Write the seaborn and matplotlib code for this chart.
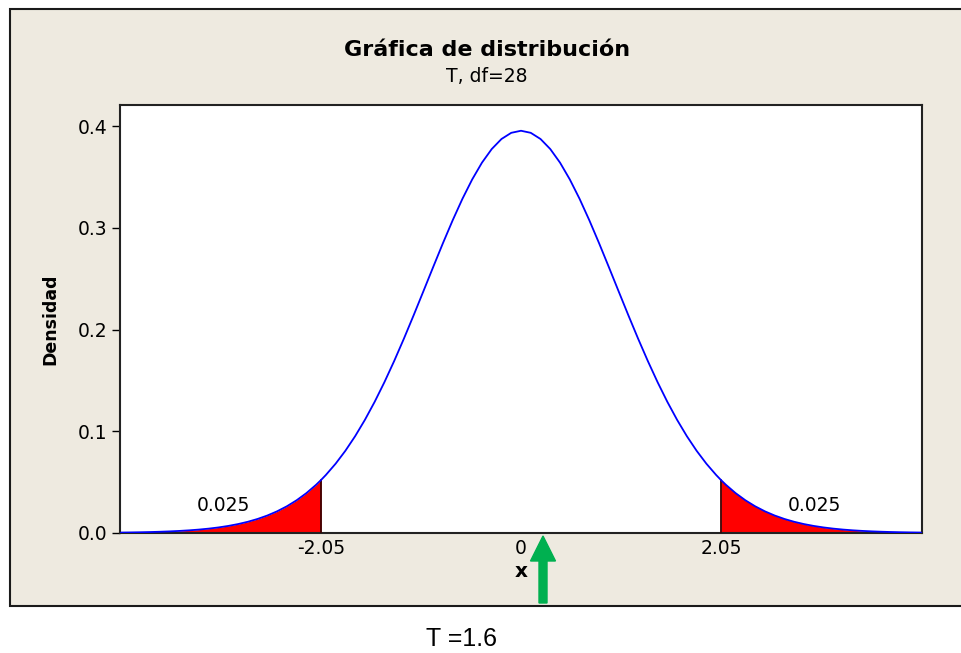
import numpy as np
import matplotlib
matplotlib.use("Agg")
import matplotlib.pyplot as plt
import seaborn as sns
from matplotlib.patches import Rectangle, FancyArrow
from matplotlib.transforms import IdentityTransform

sns.set_style("white")
plt.rcParams['font.family'] = ['DejaVu Sans']
plt.rcParams.update({"text.color": "black", "axes.labelcolor": "black",
                     "xtick.color": "black", "ytick.color": "black"})

# ---- data ----
t_values = [-4.1, -4.0, -3.9, -3.8, -3.7, -3.6, -3.5, -3.4, -3.3, -3.2, -3.1, -3.0,
            -2.9, -2.8, -2.7, -2.6, -2.5, -2.4, -2.3, -2.2, -2.1, -2.05, -2.0,
            -1.9, -1.8, -1.7, -1.6, -1.5, -1.4, -1.3, -1.2, -1.1, -1.0,
            -0.9, -0.8, -0.7, -0.6, -0.5, -0.4, -0.3, -0.2, -0.1, 0.0,
            0.1, 0.2, 0.3, 0.4, 0.5, 0.6, 0.7, 0.8, 0.9, 1.0,
            1.1, 1.2, 1.3, 1.4, 1.5, 1.6, 1.7, 1.8, 1.9, 2.0, 2.05,
            2.1, 2.2, 2.3, 2.4, 2.5, 2.6, 2.7, 2.8, 2.9, 3.0,
            3.1, 3.2, 3.3, 3.4, 3.5, 3.6, 3.7, 3.8, 3.9, 4.0, 4.1]
density = [0.00043, 0.00056, 0.00073, 0.00095, 0.00123, 0.00159, 0.00205, 0.00263,
           0.00337, 0.00431, 0.00548, 0.00695, 0.00877, 0.01103, 0.01380, 0.01719,
           0.02130, 0.02625, 0.03216, 0.03917, 0.04741, 0.05205, 0.05704,
           0.06813, 0.08082, 0.09516, 0.11120, 0.12891, 0.14824, 0.16903, 0.19108,
           0.21410, 0.23771, 0.26147, 0.28491, 0.30745, 0.32854, 0.34758, 0.36404,
           0.37741, 0.38729, 0.39335, 0.39539,
           0.39335, 0.38729, 0.37741, 0.36404, 0.34758, 0.32854, 0.30745, 0.28491,
           0.26147, 0.23771, 0.21410, 0.19108, 0.16903, 0.14824, 0.12891, 0.11120,
           0.09516, 0.08082, 0.06813, 0.05704, 0.05205, 0.04741,
           0.03917, 0.03216, 0.02625, 0.02130, 0.01719, 0.01380, 0.01103, 0.00877,
           0.00695, 0.00548, 0.00431, 0.00337, 0.00263, 0.00205, 0.00159, 0.00123,
           0.00095, 0.00073, 0.00056, 0.00043]
critical = [-2.05, 2.05]
tail_areas = ["0.025", "0.025"]
x_ticks = [-2.05, 0, 2.05]
x_tick_labels = ["-2.05", "0", "2.05"]
y_ticks = [0.0, 0.1, 0.2, 0.3, 0.4]
y_tick_labels = ["0.0", "0.1", "0.2", "0.3", "0.4"]
title = "Gráfica de distribución"
subtitle = "T, df=28"
stat_text = "T =1.6"

W, H = 961, 653
fig = plt.figure(figsize=(W / 100, H / 100), dpi=100)
fig.patch.set_facecolor("white")

# beige panel
panel = Rectangle((10 / W, (H - 606) / H), 1.2, (606 - 9) / H,
                  transform=fig.transFigure, facecolor="#EEEAE0",
                  edgecolor="#1a1a1a", linewidth=1.5, zorder=-5)
fig.patches.append(panel)

ax = fig.add_axes([120 / W, (H - 533) / H, 802 / W, 428 / H])
ax.set_zorder(2)
ax.set_facecolor("white")

x = np.array(t_values)
y = np.array(density)

# tails
left = x <= critical[0]
right = x >= critical[1]
ax.fill_between(x[left], 0, y[left], color="#FF0000", linewidth=0, zorder=2)
ax.fill_between(x[right], 0, y[right], color="#FF0000", linewidth=0, zorder=2)
ax.plot([critical[0], critical[0]], [0, y[x == critical[0]][0]], color="#3a0000", lw=1.3, zorder=3)
ax.plot([critical[1], critical[1]], [0, y[x == critical[1]][0]], color="#3a0000", lw=1.3, zorder=3)

sns.lineplot(x=x, y=y, ax=ax, color="#0000FF", linewidth=1.3, zorder=4, sort=False)

ax.set_xlim(-4.11, 4.11)
ax.set_ylim(0, 0.4207)
ax.set_xticks(x_ticks)
ax.set_xticklabels(x_tick_labels, fontsize=13.5)
ax.set_yticks(y_ticks)
ax.set_yticklabels(y_tick_labels, fontsize=13.5)
ax.tick_params(axis="x", length=0, pad=4)
ax.tick_params(axis="y", length=6, width=1, pad=3, left=True, direction="out")
for s in ax.spines.values():
    s.set_visible(True)
    s.set_color("#222222")
    s.set_linewidth(1.5)

ax.set_xlabel("x", fontsize=14.5, fontweight="bold", labelpad=3)
ax.set_ylabel("Densidad", fontsize=12.5, fontweight="bold", labelpad=13)

ax.text(-3.05, 0.0275, tail_areas[0], fontsize=13.5, ha="center", va="center")
ax.text(3.01, 0.0275, tail_areas[1], fontsize=13.5, ha="center", va="center")

fig.text(487 / W, (H - 50) / H, title, fontsize=16, fontweight="bold",
         ha="center", va="center")
fig.text(487 / W, (H - 77) / H, subtitle, fontsize=13.5, ha="center", va="center")

fig.text(461 / W, (H - 639) / H, stat_text, fontsize=18, ha="center", va="center",
         family=["Liberation Sans", "DejaVu Sans"])

# green arrow pointing at the statistic
arrow = FancyArrow(543, H - 603, 0, 67, width=8, head_width=25, head_length=25,
                   length_includes_head=True, color="#00B050",
                   transform=IdentityTransform(), zorder=5)
fig.patches.append(arrow)

fig.savefig("out.png", dpi=100, facecolor="white")
